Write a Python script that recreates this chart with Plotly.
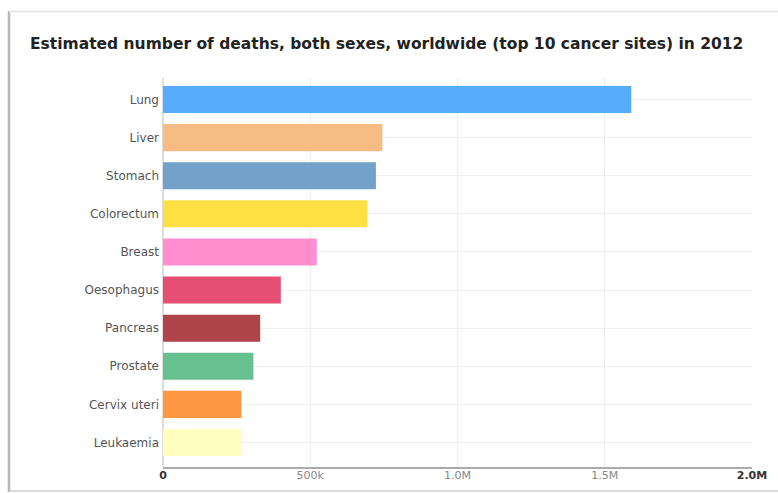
import plotly.graph_objects as go

sites = ["Lung", "Liver", "Stomach", "Colorectum", "Breast", "Oesophagus",
         "Pancreas", "Prostate", "Cervix uteri", "Leukaemia"]
deaths = [1590000, 745000, 723000, 694000, 522000, 400000, 330000, 307000, 266000, 265000]
colors = ["#57acfd", "#f5bd83", "#72a2c9", "#ffe043", "#ff8ecf", "#e44f73",
          "#b0444b", "#66c08f", "#fe9741", "#fffdc0"]
tick_vals = [0, 500000, 1000000, 1500000, 2000000]
tick_text = ["<span style='color:#333'><b>0</b></span>", "500k", "1.0M", "1.5M",
             "<span style='color:#333'><b>2.0M</b></span>"]

W, H = 778, 493
ML, MR, MT, MB = 163, 26, 78, 26
pw, ph = W - ML - MR, H - MT - MB

def px(x):
    return (x - ML) / pw

def py(y):
    return (H - MB - y) / ph

fig = go.Figure(go.Bar(
    x=deaths, y=sites, orientation="h",
    marker=dict(color=colors, line=dict(width=0)),
    width=0.71,
))

fig.update_layout(
    width=W, height=H,
    margin=dict(l=ML, r=MR, t=MT, b=MB, autoexpand=False),
    paper_bgcolor="white", plot_bgcolor="white",
    showlegend=False,
    title=dict(text="<b>Estimated number of deaths, both sexes, worldwide (top 10 cancer sites) in 2012</b>",
               x=30 / W, xanchor="left", y=1 - 44 / H, yanchor="middle",
               font=dict(family="DejaVu Sans", size=15.5, color="#222")),
    font=dict(family="DejaVu Sans", size=12, color="#555"),
    xaxis=dict(range=[0, 2000000], tickvals=tick_vals, ticktext=tick_text,
               automargin=False,
               showgrid=True, gridcolor="#eeeeee", gridwidth=1,
               zeroline=True, zerolinecolor="#dddddd",
               showline=True, linecolor="#aaaaaa", linewidth=1.5,
               tickfont=dict(size=11, color="#888"), ticks="", ticklen=0,
               ticklabelstandoff=-3),
    yaxis=dict(categoryorder="array", categoryarray=sites, automargin=False,
               range=[9.643, -0.564], showgrid=True, gridcolor="#f0f0f0",
               tickfont=dict(size=12, color="#555"), ticks="", ticklen=0,
               ticklabelstandoff=3),
    shapes=[
        dict(type="line", xref="paper", yref="paper", x0=px(9), x1=px(9), y0=py(11), y1=py(492),
             line=dict(color="#b8b8b8", width=2.5), layer="above"),
        dict(type="line", xref="paper", yref="paper", x0=px(9), x1=px(800), y0=py(11.5), y1=py(11.5),
             line=dict(color="#e8e8e8", width=2), layer="above"),
        dict(type="line", xref="paper", yref="paper", x0=px(9), x1=px(800), y0=py(491), y1=py(491),
             line=dict(color="#d0d0d0", width=1.5), layer="above"),
    ],
)

fig.write_html("out.html")
